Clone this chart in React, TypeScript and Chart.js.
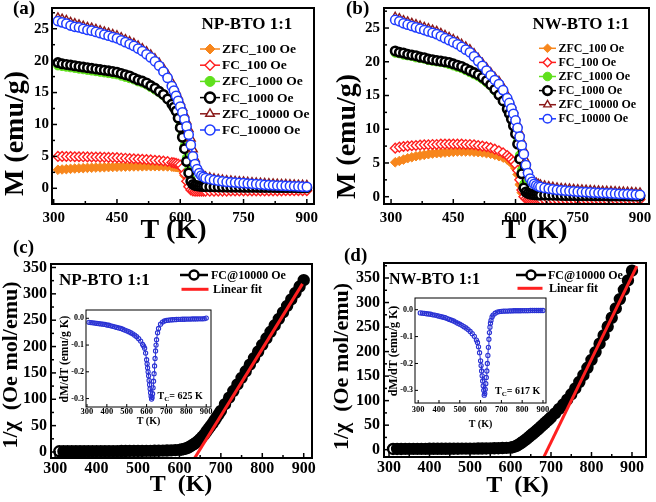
import React, { useEffect, useRef } from 'react';
import { Chart, registerables } from 'chart.js';
Chart.register(...registerables);

const SERIF = '"Liberation Serif", "Times New Roman", serif';
const fnt = (s: number) => `bold ${s}px ${SERIF}`;

// ---------------- data ----------------
const TEMPS_AB = [310,320,330,340,350,360,370,380,390,400,410,420,430,440,450,460,470,480,490,500,510,520,530,540,550,560,570,
  580,585,590,595,600,605,610,615,620,625,630,635,640,645,650,655,660,
  670,680,690,700,710,720,730,740,750,760,770,780,790,800,810,820,830,840,850,860,870,880,890,900];

const A_ZFC100 = [2.9,2.95,3.0,3.05,3.1,3.13,3.16,3.2,3.22,3.25,3.27,3.3,3.32,3.34,3.36,3.38,3.4,3.41,3.42,3.43,3.44,3.45,3.45,3.45,3.45,3.44,3.42,
  3.38,3.35,3.32,3.28,3.2,2.8,2.0,1.1,0.4,0.0,-0.15,-0.2,-0.2,-0.2,-0.2,-0.2,-0.2,
  -0.2,-0.2,-0.2,-0.2,-0.19,-0.19,-0.19,-0.19,-0.18,-0.18,-0.18,-0.18,-0.17,-0.17,-0.17,-0.17,-0.16,-0.16,-0.16,-0.16,-0.15,-0.15,-0.15,-0.15];
const A_FC100 = [5.0,5.0,4.98,4.97,4.95,4.94,4.93,4.92,4.91,4.9,4.88,4.86,4.84,4.82,4.8,4.76,4.72,4.68,4.64,4.6,4.55,4.5,4.45,4.4,4.35,4.28,4.2,
  4.05,3.98,3.9,3.8,3.65,3.2,2.3,1.1,0.25,-0.25,-0.4,-0.45,-0.45,-0.45,-0.45,-0.45,-0.45,
  -0.45,-0.45,-0.44,-0.44,-0.44,-0.43,-0.43,-0.43,-0.42,-0.42,-0.42,-0.41,-0.41,-0.41,-0.4,-0.4,-0.4,-0.4,-0.39,-0.39,-0.39,-0.38,-0.38,-0.38];
const A_ZFC1000 = [19.2,19.1,19.0,18.9,18.8,18.7,18.6,18.5,18.4,18.3,18.2,18.1,18.0,17.9,17.8,17.6,17.4,17.2,17.0,16.7,16.5,16.2,15.8,15.4,15.0,14.5,13.9,
  13.1,12.6,12.0,11.1,9.8,8.4,6.7,4.8,2.9,1.5,0.8,0.5,0.4,0.35,0.3,0.28,0.26,
  0.24,0.22,0.2,0.19,0.18,0.17,0.16,0.16,0.15,0.15,0.14,0.14,0.13,0.13,0.12,0.12,0.11,0.11,0.11,0.1,0.1,0.1,0.09,0.09];
const A_FC1000 = [19.7,19.5,19.4,19.3,19.2,19.1,19.0,18.9,18.8,18.7,18.6,18.5,18.4,18.3,18.2,18.0,17.8,17.6,17.3,17.0,16.8,16.5,16.1,15.7,15.2,14.7,14.0,
  13.2,12.7,12.1,11.0,9.5,8.0,6.2,4.2,2.4,1.1,0.6,0.45,0.4,0.35,0.32,0.3,0.28,
  0.25,0.23,0.22,0.2,0.19,0.18,0.18,0.17,0.16,0.16,0.15,0.15,0.14,0.14,0.13,0.13,0.12,0.12,0.12,0.11,0.11,0.1,0.1,0.1];
const A_ZFC10000 = [26.7,26.5,26.3,26.0,25.8,25.6,25.4,25.2,25.1,24.9,24.7,24.5,24.3,24.1,23.9,23.6,23.3,23.0,22.7,22.3,21.9,21.4,20.9,20.3,19.6,18.8,17.8,
  16.6,15.9,15.2,14.4,13.5,12.6,11.6,10.5,9.3,7.8,6.1,4.6,3.5,2.8,2.3,2.0,1.8,
  1.65,1.5,1.4,1.3,1.2,1.15,1.1,1.05,1.0,0.95,0.9,0.85,0.8,0.76,0.72,0.69,0.66,0.63,0.6,0.57,0.54,0.51,0.48,0.45];
const A_FC10000 = [26.2,26.0,25.8,25.5,25.3,25.2,25.0,24.8,24.7,24.5,24.3,24.1,23.9,23.7,23.5,23.2,22.9,22.6,22.3,21.9,21.5,21.0,20.5,19.9,19.2,18.3,17.3,
  16.0,15.3,14.5,13.7,12.8,11.9,10.8,9.7,8.4,6.8,5.0,3.8,3.0,2.4,2.0,1.8,1.6,
  1.45,1.3,1.2,1.1,1.0,0.95,0.9,0.85,0.8,0.75,0.7,0.65,0.6,0.55,0.5,0.47,0.44,0.41,0.38,0.35,0.32,0.29,0.26,0.23];

const B_ZFC100 = [5.1,5.3,5.5,5.7,5.85,6.0,6.1,6.2,6.3,6.4,6.45,6.5,6.55,6.6,6.65,6.7,6.7,6.7,6.7,6.65,6.6,6.55,6.45,6.35,6.2,6.0,5.8,
  5.5,5.3,5.0,4.7,4.2,3.3,1.8,0.6,0.0,-0.2,-0.25,-0.25,-0.25,-0.25,-0.25,-0.25,-0.25,
  -0.25,-0.25,-0.25,-0.25,-0.25,-0.25,-0.25,-0.25,-0.24,-0.24,-0.24,-0.24,-0.24,-0.24,-0.24,-0.24,-0.23,-0.23,-0.23,-0.23,-0.23,-0.23,-0.23,-0.23];
const B_FC100 = [7.2,7.35,7.45,7.5,7.55,7.6,7.65,7.7,7.7,7.75,7.75,7.8,7.8,7.8,7.8,7.8,7.8,7.75,7.75,7.7,7.6,7.5,7.4,7.25,7.05,6.8,6.5,
  6.1,5.8,5.5,5.2,4.8,3.9,2.5,1.0,0.0,-0.3,-0.4,-0.42,-0.42,-0.42,-0.42,-0.42,-0.42,
  -0.42,-0.42,-0.42,-0.42,-0.42,-0.42,-0.42,-0.42,-0.41,-0.41,-0.41,-0.41,-0.41,-0.41,-0.41,-0.41,-0.4,-0.4,-0.4,-0.4,-0.4,-0.4,-0.4,-0.4];
const B_ZFC1000 = [21.3,21.2,21.0,20.9,20.8,20.6,20.5,20.4,20.2,20.1,20.0,19.9,19.8,19.6,19.4,19.2,19.0,18.7,18.4,18.1,17.8,17.4,16.9,16.4,15.7,15.0,14.1,
  13.0,12.3,11.6,10.7,9.6,8.2,6.2,4.0,1.9,0.9,0.55,0.42,0.36,0.31,0.28,0.26,0.25,
  0.23,0.21,0.2,0.19,0.18,0.17,0.16,0.16,0.15,0.15,0.14,0.14,0.13,0.13,0.12,0.12,0.11,0.11,0.11,0.1,0.1,0.09,0.09,0.09];
const B_FC1000 = [21.6,21.4,21.3,21.1,21.0,20.9,20.7,20.6,20.4,20.3,20.2,20.1,20.0,19.9,19.7,19.5,19.3,19.0,18.7,18.4,18.1,17.7,17.2,16.6,15.9,15.1,14.2,
  13.0,12.3,11.5,10.5,9.3,7.8,5.6,3.4,1.3,0.7,0.5,0.4,0.35,0.3,0.28,0.26,0.25,
  0.25,0.23,0.22,0.2,0.19,0.18,0.18,0.17,0.16,0.16,0.15,0.15,0.14,0.14,0.13,0.13,0.12,0.12,0.12,0.11,0.11,0.1,0.1,0.1];
const B_ZFC10000 = [26.6,26.4,26.1,25.9,25.7,25.5,25.3,25.1,24.9,24.7,24.5,24.2,23.9,23.6,23.3,23.0,22.6,22.2,21.8,21.2,20.5,19.8,19.1,18.4,17.7,17.1,16.2,
  15.0,14.3,13.6,12.8,11.8,10.7,9.5,8.2,6.9,5.3,4.0,3.1,2.5,2.2,2.0,1.85,1.75,
  1.6,1.5,1.4,1.3,1.25,1.2,1.15,1.1,1.05,1.0,0.97,0.94,0.9,0.87,0.84,0.81,0.78,0.75,0.72,0.7,0.67,0.64,0.61,0.58];
const B_FC10000 = [26.2,26.0,25.7,25.5,25.3,25.1,24.9,24.7,24.5,24.3,24.1,23.8,23.5,23.2,22.9,22.6,22.2,21.8,21.4,20.8,20.1,19.4,18.7,18.0,17.3,16.7,15.8,
  14.6,13.9,13.1,12.3,11.3,10.2,8.9,7.6,6.3,4.7,3.5,2.7,2.2,1.9,1.7,1.55,1.45,
  1.3,1.2,1.1,1.0,0.95,0.9,0.85,0.8,0.75,0.7,0.67,0.64,0.6,0.57,0.54,0.51,0.48,0.45,0.42,0.4,0.37,0.34,0.31,0.28];

const TEMPS_CD = [310,320,330,340,350,360,370,380,390,400,410,420,430,440,450,460,470,480,490,500,510,520,530,540,550,560,570,580,590,
  600,605,610,615,620,625,630,635,640,645,650,655,660,665,670,675,680,685,690,695,700,
  710,720,730,740,750,760,770,780,790,800,810,820,830,840,850,860,870,880,890,900];
const C_INV_CHI = [1.3,1.3,1.3,1.4,1.4,1.4,1.5,1.5,1.5,1.6,1.6,1.6,1.7,1.7,1.7,1.8,1.8,1.9,1.9,2.0,2.0,2.1,2.2,2.3,2.4,2.6,2.8,3.1,3.5,
  4.0,4.6,5.4,6.5,8.0,10.0,12.4,15.0,17.7,20.8,24.3,28.7,33.0,38.4,43.8,49.1,54.5,60.3,66.2,72.0,77.9,
  90.6,103.1,115.6,128.1,140.6,153.1,165.6,178.1,190.6,203.2,215.7,228.0,240.3,252.6,264.9,277.2,289.5,301.8,313.9,326.0];
const D_INV_CHI = [1.5,1.5,1.5,1.6,1.6,1.6,1.7,1.7,1.7,1.8,1.8,1.8,1.9,1.9,1.9,2.0,2.0,2.1,2.1,2.2,2.2,2.3,2.4,2.5,2.6,2.8,3.0,3.3,3.7,
  4.2,5.0,6.2,8.0,10.3,13.0,16.0,19.0,22.0,25.5,29.0,32.5,36.0,39.5,43.0,46.8,50.6,54.4,58.2,62.0,66.0,
  74,83,92,102,113,125,138,152,167,183,199,216,233,251,269,288,307,326,345,365];
const FIT_C_T = [636, 897];
const FIT_C_V = [-12.5, 318.9];
const FIT_D_T = [683, 912];
const FIT_D_V = [-13.6, 374.1];

const INSET_T = [310,320,330,340,350,360,370,380,390,400,410,420,430,440,450,460,470,480,490,500,510,520,530,540,550,560,570,580,
  585,590,595,600,602.5,605,607.5,610,612.5,615,617.5,620,622.5,625,627.5,630,632.5,635,637.5,640,642.5,645,647.5,650,655,660,
  670,680,690,700,710,720,730,740,750,760,770,780,790,800,810,820,830,840,850,860,870,880,890,900];
const IC_DMDT = [-0.015,-0.016,-0.017,-0.018,-0.019,-0.02,-0.021,-0.022,-0.023,-0.025,-0.026,-0.028,-0.03,-0.032,-0.034,-0.036,-0.038,-0.041,-0.044,-0.047,-0.05,-0.054,-0.058,-0.063,-0.069,-0.076,-0.085,-0.098,
  -0.104,-0.112,-0.13,-0.155,-0.17,-0.185,-0.2,-0.215,-0.232,-0.248,-0.263,-0.278,-0.291,-0.302,-0.296,-0.282,-0.26,-0.235,-0.207,-0.178,-0.15,-0.122,-0.1,-0.08,-0.054,-0.038,
  -0.022,-0.014,-0.01,-0.008,-0.007,-0.006,-0.0055,-0.005,-0.0045,-0.004,-0.004,-0.0035,-0.0035,-0.003,-0.003,-0.003,-0.0025,-0.0025,-0.0025,-0.002,-0.002,-0.002,-0.0015,0.001];
const ID_DMDT = [-0.012,-0.013,-0.014,-0.015,-0.016,-0.017,-0.019,-0.02,-0.022,-0.024,-0.026,-0.028,-0.03,-0.033,-0.036,-0.039,-0.042,-0.046,-0.05,-0.054,-0.058,-0.063,-0.068,-0.074,-0.081,-0.089,-0.099,-0.113,
  -0.122,-0.138,-0.16,-0.19,-0.208,-0.228,-0.246,-0.265,-0.283,-0.3,-0.318,-0.312,-0.296,-0.275,-0.252,-0.228,-0.2,-0.17,-0.14,-0.11,-0.085,-0.065,-0.05,-0.04,-0.027,-0.02,
  -0.013,-0.009,-0.007,-0.006,-0.0055,-0.005,-0.005,-0.0045,-0.0045,-0.004,-0.004,-0.004,-0.004,-0.0035,-0.0035,-0.0035,-0.0035,-0.003,-0.003,-0.003,-0.003,-0.003,-0.003,-0.003];

const TICKS_AB_X = [300, 450, 600, 750, 900];
const TICKS_AB_Y = [0, 5, 10, 15, 20, 25];
const TICKS_CD_X = [300, 400, 500, 600, 700, 800, 900];
const TICKS_CD_Y = [0, 50, 100, 150, 200, 250, 300, 350];
const TICKS_IN_X = [300, 400, 500, 600, 700, 800, 900];
const TICKS_IN_Y = [-0.3, -0.2, -0.1, 0.0];

const LABELS_AB = ['ZFC_100 Oe', 'FC_100 Oe', 'ZFC_1000 Oe', 'FC_1000 Oe', 'ZFC_10000 Oe', 'FC_10000 Oe'];

// ---------------- styles ----------------
type Sty = { shape: string; r: number; fill: any; stroke: string; pw: number; line: string; lw: number };
const S_ORANGE: Sty = { shape: 'rectRot', r: 4.8, fill: '#f7861c', stroke: '#f7861c', pw: 1, line: '#f7861c', lw: 1.5 };
const S_RED: Sty = { shape: 'rectRot', r: 4.8, fill: '#ffffff', stroke: '#ff1e1e', pw: 1.4, line: '#ff1e1e', lw: 1.5 };
const S_GREEN: Sty = { shape: 'circle', r: 4.2, fill: '#5fe01c', stroke: '#5fe01c', pw: 1, line: '#5fe01c', lw: 1.5 };
const S_BLACK: Sty = { shape: 'circle', r: 4.2, fill: '#ffffff', stroke: '#000000', pw: 2.6, line: '#000000', lw: 1.5 };
const S_BROWN: Sty = { shape: 'triangle', r: 5, fill: '#ffffff', stroke: '#8b1a1a', pw: 1.4, line: '#8b1a1a', lw: 1.5 };
const S_BLUE: Sty = { shape: 'circle', r: 4.6, fill: '#ffffff', stroke: '#1f3cff', pw: 1.5, line: '#1f3cff', lw: 1.5 };
const STY_AB = [S_ORANGE, S_RED, S_GREEN, S_BLACK, S_BROWN, S_BLUE];
const S_FC: Sty = { shape: 'circle', r: 5, fill: '#ffffff', stroke: '#000000', pw: 2.4, line: '#000000', lw: 6 };
const S_INSET: Sty = { shape: 'circle', r: 2.1, fill: 'rgba(255,255,255,0)', stroke: '#2a32d4', pw: 1.1, line: '#2a32d4', lw: 1 };
const FIT_COLOR = '#ff2020';

const pts = (xs: number[], ys: number[]) => xs.map((x, i) => ({ x, y: ys[i] }));

function series(label: string, xs: number[], ys: number[], s: Sty, order: number, extra: any = {}) {
  return {
    label, data: pts(xs, ys), order, showLine: true, tension: 0, fill: false,
    borderColor: s.line, borderWidth: s.lw,
    pointStyle: s.shape, pointRadius: s.r, pointHoverRadius: s.r, pointHitRadius: 0,
    pointBackgroundColor: s.fill, pointBorderColor: s.stroke, pointBorderWidth: s.pw,
    ...extra,
  };
}

// ---------------- drawing helpers ----------------
function drawMarker(ctx: CanvasRenderingContext2D, s: Sty, x: number, y: number, r: number) {
  ctx.save();
  ctx.beginPath();
  if (s.shape === 'circle') ctx.arc(x, y, r, 0, Math.PI * 2);
  else if (s.shape === 'rectRot') { ctx.moveTo(x, y - r); ctx.lineTo(x + r, y); ctx.lineTo(x, y + r); ctx.lineTo(x - r, y); ctx.closePath(); }
  else if (s.shape === 'triangle') {
    let a = 0;
    ctx.moveTo(x + Math.sin(a) * r, y - Math.cos(a) * r); a += 2 * Math.PI / 3;
    ctx.lineTo(x + Math.sin(a) * r, y - Math.cos(a) * r); a += 2 * Math.PI / 3;
    ctx.lineTo(x + Math.sin(a) * r, y - Math.cos(a) * r); ctx.closePath();
  }
  ctx.fillStyle = typeof s.fill === 'string' ? s.fill : '#ffffff';
  ctx.fill();
  ctx.lineWidth = s.pw; ctx.strokeStyle = s.stroke; ctx.stroke();
  ctx.restore();
}

const decor = {
  id: 'decor',
  afterDraw(chart: any, _a: any, o: any) {
    const ctx: CanvasRenderingContext2D = chart.ctx;
    const ca = chart.chartArea;
    const ox = o.ox, oy = o.oy;
    ctx.save();
    ctx.strokeStyle = '#000';
    ctx.lineWidth = o.tickW;
    const axisTicks = (scale: any, horiz: boolean) => {
      const vals = scale.ticks.map((t: any) => t.value);
      const one = (v: number, len: number) => {
        const p = scale.getPixelForValue(v);
        ctx.beginPath();
        if (horiz) { ctx.moveTo(p, ca.bottom); ctx.lineTo(p, ca.bottom - len); }
        else { ctx.moveTo(ca.left, p); ctx.lineTo(ca.left + len, p); }
        ctx.stroke();
      };
      vals.forEach((v: number) => one(v, o.major));
      if (o.minorLen > 0 && vals.length > 1) {
        const step = vals[1] - vals[0];
        for (let k = -1; k < vals.length; k++) {
          const v = vals[0] + step * (k + 0.5);
          if (v >= scale.min && v <= scale.max) one(v, o.minorLen);
        }
      }
    };
    axisTicks(chart.scales.x, true);
    axisTicks(chart.scales.y, false);
    ctx.lineWidth = o.frameW;
    ctx.strokeRect(ca.left, ca.top, ca.right - ca.left, ca.bottom - ca.top);

    for (const it of (o.legend || [])) {
      ctx.beginPath();
      ctx.moveTo(it.x1 - ox, it.y - oy); ctx.lineTo(it.x2 - ox, it.y - oy);
      ctx.strokeStyle = it.color; ctx.lineWidth = it.lw; ctx.stroke();
      if (it.marker) drawMarker(ctx, it.marker, (it.x1 + it.x2) / 2 - ox, it.y - oy, it.mr);
      ctx.fillStyle = '#000'; ctx.font = fnt(it.size); ctx.textAlign = 'left'; ctx.textBaseline = 'middle';
      ctx.fillText(it.text, it.tx - ox, it.y - oy + 0.5);
    }
    for (const t of (o.texts || [])) {
      ctx.save();
      ctx.translate(t.x - ox, t.y - oy);
      if (t.rot) ctx.rotate(t.rot);
      ctx.fillStyle = t.color || '#000';
      ctx.textBaseline = t.baseline || 'alphabetic';
      if (t.runs) {
        let x = 0;
        ctx.textAlign = 'left';
        for (const r of t.runs) {
          ctx.font = fnt(r.size);
          ctx.fillText(r.t, x, r.dy || 0);
          x += ctx.measureText(r.t).width;
        }
      } else {
        ctx.font = fnt(t.size);
        ctx.textAlign = t.align || 'left';
        ctx.fillText(t.text, 0, 0);
      }
      ctx.restore();
    }
    ctx.restore();
  },
};

// ---------------- panel geometry ----------------
type Geo = { L: number; T: number; R: number; B: number; yw: number; padTop: number; padRight: number; xh: number };
const box = (g: Geo) => ({ left: g.L - g.yw, top: g.T - g.padTop, width: g.R - g.L + g.yw + g.padRight, height: g.B - g.T + g.padTop + g.xh });

const GEO_A: Geo = { L: 52, T: 8, R: 314, B: 204, yw: 52, padTop: 20, padRight: 20, xh: 47 };
const GEO_B: Geo = { L: 384, T: 8, R: 649, B: 204, yw: 54, padTop: 20, padRight: 20, xh: 47 };
const GEO_C: Geo = { L: 51, T: 264, R: 312, B: 458, yw: 51, padTop: 30, padRight: 20, xh: 44 };
const GEO_D: Geo = { L: 384, T: 263, R: 646, B: 457, yw: 54, padTop: 30, padRight: 20, xh: 45 };
const GEO_IC: Geo = { L: 86, T: 310, R: 211, B: 407, yw: 30, padTop: 12, padRight: 12, xh: 25 };
const GEO_ID: Geo = { L: 415, T: 298, R: 546, B: 403, yw: 30, padTop: 12, padRight: 12, xh: 29 };
const GEOS = [GEO_A, GEO_B, GEO_C, GEO_D, GEO_IC, GEO_ID];

function makeConfig(g: Geo, p: any) {
  const b = box(g);
  const xFont = { family: SERIF, size: p.tickSize, weight: 'bold' as const };
  const yFont = { family: SERIF, size: p.yTickSize || p.tickSize, weight: 'bold' as const };
  return {
    type: 'line',
    data: { datasets: p.datasets },
    options: {
      responsive: false, animation: false, events: [],
      layout: { padding: { left: 0, top: g.padTop, right: g.padRight, bottom: 0 } },
      plugins: {
        legend: { display: false }, tooltip: { enabled: false },
        decor: { ox: b.left, oy: b.top, frameW: p.frameW, tickW: p.tickW, major: p.major, minorLen: p.minorLen, legend: p.legend, texts: p.texts },
      },
      scales: {
        x: {
          type: 'linear', min: p.xr[0], max: p.xr[1],
          grid: { display: false, drawTicks: false }, border: { display: false },
          ticks: { font: xFont, color: '#000', padding: p.xPad, autoSkip: false, maxRotation: 0, minRotation: 0, callback: p.xFmt || ((v: number) => String(v)) },
          afterBuildTicks: (s: any) => { s.ticks = p.xTicks.map((v: number) => ({ value: v })); },
          afterFit: (s: any) => { s.height = g.xh; },
        },
        y: {
          type: 'linear', min: p.yr[0], max: p.yr[1],
          grid: { display: false, drawTicks: false }, border: { display: false },
          ticks: { font: yFont, color: '#000', padding: p.yPad, autoSkip: false, callback: p.yFmt || ((v: number) => String(v)) },
          afterBuildTicks: (s: any) => { s.ticks = p.yTicks.map((v: number) => ({ value: v })); },
          afterFit: (s: any) => { s.width = g.yw; },
        },
      },
    },
    plugins: [decor],
  } as any;
}

function legendAB(x1: number, x2: number, tx: number, y0: number, dy: number, size: number, mr: number) {
  return LABELS_AB.map((lab, i) => ({
    x1, x2, y: y0 + dy * i, color: STY_AB[i].line, lw: 1.5, marker: STY_AB[i], mr: mr, text: lab, tx, size,
  }));
}

function abDatasets(vals: number[][]) {
  const orders = [6, 5, 4, 3, 2, 1];
  return vals.map((v, i) => series(LABELS_AB[i], TEMPS_AB, v, STY_AB[i], orders[i]));
}

function fcDatasets(inv: number[], ft: number[], fv: number[]) {
  return [
    series('FC@10000 Oe', TEMPS_CD, inv, S_FC, 2, {
      pointBackgroundColor: (c: any) => (c.dataIndex === 0 ? '#ffffff' : '#000000'),
    }),
    { label: 'Linear fit', data: pts(ft, fv), order: 1, showLine: true, borderColor: FIT_COLOR, borderWidth: 3, pointRadius: 0, pointHitRadius: 0, fill: false },
  ];
}

const ROT = -Math.PI / 2;

function buildConfigs() {
  const mainCommon = { tickSize: 15, frameW: 2, tickW: 1.5, major: 5, minorLen: 3 };
  const cfgA = makeConfig(GEO_A, {
    ...mainCommon, xr: [296, 917], yr: [-2.46, 28.25], xTicks: TICKS_AB_X, yTicks: TICKS_AB_Y, xPad: 5, yPad: 3,
    datasets: abDatasets([A_ZFC100, A_FC100, A_ZFC1000, A_FC1000, A_ZFC10000, A_FC10000]),
    legend: legendAB(200, 220, 222, 49, 16.2, 13.5, 5),
    texts: [
      { text: '(a)', x: 13, y: 13.5, size: 19 },
      { text: 'NP-BTO 1:1', x: 201.5, y: 25, size: 17, baseline: 'middle' },
      { text: 'M (emu/g)', x: 16, y: 133.5, size: 28, rot: ROT, align: 'center', baseline: 'middle' },
      { text: 'T (K)', x: 173.5, y: 237.6, size: 28, align: 'center' },
    ],
  });
  const cfgB = makeConfig(GEO_B, {
    ...mainCommon, xr: [283, 921.7], yr: [-1.08, 27.97], xTicks: TICKS_AB_X, yTicks: TICKS_AB_Y, xPad: 5, yPad: 4,
    datasets: abDatasets([B_ZFC100, B_FC100, B_ZFC1000, B_FC1000, B_ZFC10000, B_FC10000]),
    legend: legendAB(539, 556, 558.5, 48.3, 14.1, 12, 4.3),
    texts: [
      { text: '(b)', x: 346, y: 13.5, size: 19 },
      { text: 'NW-BTO 1:1', x: 532.5, y: 25, size: 17, baseline: 'middle' },
      { text: 'M (emu/g)', x: 348, y: 136.5, size: 28, rot: ROT, align: 'center', baseline: 'middle' },
      { text: 'T (K)', x: 534.5, y: 237.6, size: 28, align: 'center' },
    ],
  });
  const cdCommon = { tickSize: 16, frameW: 2, tickW: 1.5, major: 5, minorLen: 3 };
  const cfgC = makeConfig(GEO_C, {
    ...cdCommon, xr: [290, 920], yr: [-11.4, 356.6], xTicks: TICKS_CD_X, yTicks: TICKS_CD_Y, xPad: 1, yPad: 4,
    datasets: fcDatasets(C_INV_CHI, FIT_C_T, FIT_C_V),
    legend: [
      { x1: 180, x2: 208, y: 275, color: '#000', lw: 2.5, marker: S_FC, mr: 4.5, text: 'FC@10000 Oe', tx: 211, size: 12 },
      { x1: 181.5, x2: 208.5, y: 289.3, color: FIT_COLOR, lw: 3, text: 'Linear fit', tx: 213, size: 12 },
    ],
    texts: [
      { text: '(c)', x: 13, y: 253, size: 19 },
      { text: 'NP-BTO 1:1', x: 59, y: 281, size: 17, baseline: 'middle' },
      { text: '1/\u03c7  (Oe mol/emu)', x: 11.7, y: 365, size: 22, rot: ROT, align: 'center', baseline: 'middle' },
      { text: 'T  (K)', x: 181, y: 491, size: 24, align: 'center' },
    ],
  });
  const cfgD = makeConfig(GEO_D, {
    ...cdCommon, xr: [287.6, 934.6], yr: [-14.9, 380.6], xTicks: TICKS_CD_X, yTicks: TICKS_CD_Y, xPad: 1, yPad: 4,
    datasets: fcDatasets(D_INV_CHI, FIT_D_T, FIT_D_V),
    legend: [
      { x1: 516, x2: 546, y: 275, color: '#000', lw: 2.5, marker: S_FC, mr: 4.5, text: 'FC@10000 Oe', tx: 548, size: 12 },
      { x1: 517.5, x2: 542.5, y: 288.3, color: FIT_COLOR, lw: 3, text: 'Linear fit', tx: 549, size: 12 },
    ],
    texts: [
      { text: '(d)', x: 344, y: 261, size: 19 },
      { text: 'NW-BTO 1:1', x: 389, y: 280, size: 16, baseline: 'middle' },
      { text: '1/\u03c7  (Oe mol/emu)', x: 342, y: 366.5, size: 22, rot: ROT, align: 'center', baseline: 'middle' },
      { text: 'T  (K)', x: 517.5, y: 492, size: 24, align: 'center' },
    ],
  });
  const inCommon = { tickSize: 8.5, yTickSize: 8, frameW: 1, tickW: 1, major: 3, minorLen: 0, xFmt: (v: number) => String(v), yFmt: (v: number) => v.toFixed(1) };
  const cfgIC = makeConfig(GEO_IC, {
    ...inCommon, xr: [295, 924], yr: [-0.3315, 0.031], xTicks: TICKS_IN_X, yTicks: TICKS_IN_Y, xPad: 0, yPad: 2,
    datasets: [series('dM/dT', INSET_T, IC_DMDT, S_INSET, 1)],
    legend: [],
    texts: [
      { text: 'dM/dT (emu/g K)', x: 65.5, y: 359, size: 11.5, rot: ROT, align: 'center', baseline: 'middle' },
      { text: 'T (K)', x: 148.5, y: 424, size: 10, align: 'center' },
      { runs: [{ t: 'T', size: 10 }, { t: 'C', size: 7, dy: 2.5 }, { t: '= 625 K', size: 10 }], x: 157.5, y: 398.5 },
    ],
  });
  const cfgID = makeConfig(GEO_ID, {
    ...inCommon, xr: [284.6, 914.5], yr: [-0.347, 0.0435], xTicks: TICKS_IN_X, yTicks: TICKS_IN_Y, xPad: 2, yPad: 2,
    datasets: [series('dM/dT', INSET_T, ID_DMDT, S_INSET, 1)],
    legend: [],
    texts: [
      { text: 'dM/dT (emu/g K)', x: 394, y: 351, size: 12, rot: ROT, align: 'center', baseline: 'middle' },
      { text: 'T (K)', x: 480.5, y: 427, size: 10, align: 'center' },
      { runs: [{ t: 'T', size: 10 }, { t: 'C', size: 7, dy: 2.5 }, { t: '= 617 K', size: 10 }], x: 495, y: 393.5 },
    ],
  });
  return [cfgA, cfgB, cfgC, cfgD, cfgIC, cfgID];
}

export default function App() {
  const canvases = useRef<(HTMLCanvasElement | null)[]>([]);
  useEffect(() => {
    const cfgs = buildConfigs();
    const charts = cfgs.map((c, i) => new Chart(canvases.current[i] as HTMLCanvasElement, c));
    return () => charts.forEach((ch) => ch.destroy());
  }, []);
  return (
    <div style={{ position: 'absolute', left: 0, top: 0, width: 656, height: 502, overflow: 'hidden', background: '#fff' }}>
      {GEOS.map((g, i) => {
        const b = box(g);
        return (
          <canvas
            key={i}
            ref={(el) => { canvases.current[i] = el; }}
            width={b.width}
            height={b.height}
            style={{ position: 'absolute', left: b.left, top: b.top, width: b.width, height: b.height }}
          />
        );
      })}
    </div>
  );
}
